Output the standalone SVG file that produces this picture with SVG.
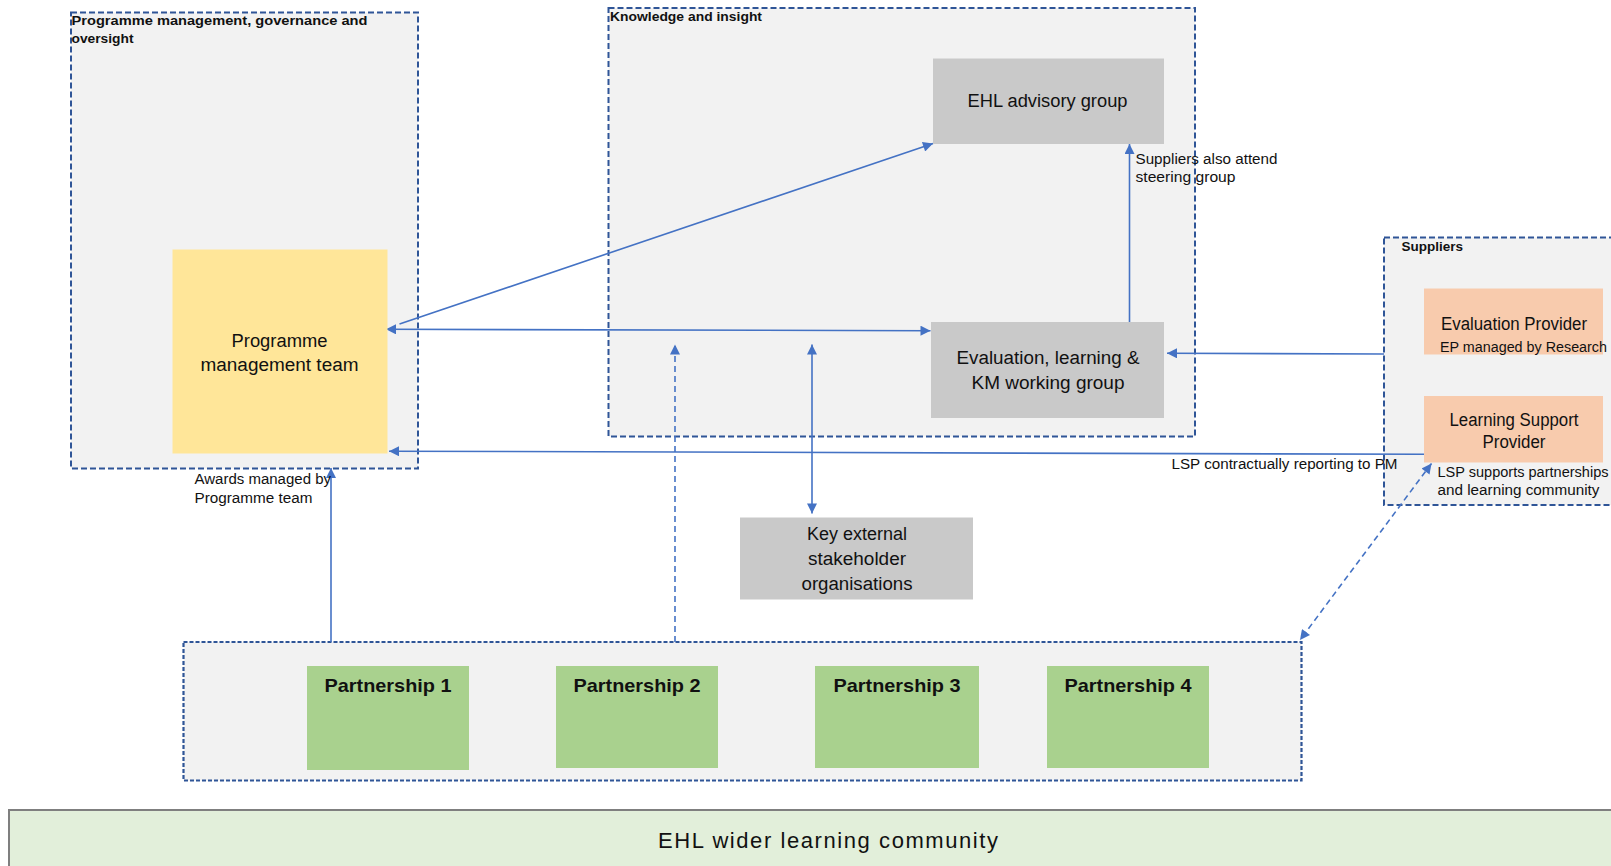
<svg xmlns="http://www.w3.org/2000/svg" width="1611" height="866" viewBox="0 0 1611 866">
  <defs>
    <marker id="arrow" viewBox="0 0 10 10" refX="10" refY="5" markerWidth="12" markerHeight="10" markerUnits="userSpaceOnUse" orient="auto-start-reverse">
      <path d="M0,0 L10,5 L0,10 z" fill="#4472c4"/>
    </marker>
  </defs>
  <style>
    .grp{fill:#f2f2f2;stroke:#2f5597;stroke-width:2;stroke-dasharray:6 3}
    .grp-fine{fill:#f2f2f2;stroke:#2f5597;stroke-width:2.2;stroke-dasharray:4 2}
    .grey{fill:#c9c9c9}
    .amber{fill:#ffe699}
    .peach{fill:#f8cbad}
    .green{fill:#a9d18e}
    .band{fill:#e2efda;stroke:#7f7f7f;stroke-width:2}
    text{font-family:"Liberation Sans",Arial,sans-serif;fill:#111}
    .title{font-size:13.5px;font-weight:bold}
    .node{font-size:18px;text-anchor:middle}
    .small{font-size:14px}
    .part{font-size:19px;font-weight:bold;text-anchor:middle}
    .conn{stroke:#4472c4;stroke-width:1.6;fill:none}
    .dash{stroke-dasharray:6 4}
  </style>

  <!-- containers -->
  <g id="programme-management">
    <rect class="grp" x="71" y="12.5" width="347" height="456"/>
    <text class="title" x="71.5" y="25" textLength="296" lengthAdjust="spacingAndGlyphs">Programme management, governance and</text>
    <text class="title" x="71.5" y="43" textLength="62" lengthAdjust="spacingAndGlyphs">oversight</text>
  </g>
  <g id="knowledge-insight">
    <rect class="grp" x="608.5" y="8" width="586.5" height="428.5"/>
    <text class="title" x="610" y="21" textLength="152" lengthAdjust="spacingAndGlyphs">Knowledge and insight</text>
  </g>
  <g id="suppliers">
    <rect class="grp" x="1384" y="237.5" width="240" height="267.5"/>
    <text class="title" x="1401.5" y="250.5" textLength="61.5" lengthAdjust="spacingAndGlyphs">Suppliers</text>
  </g>
  <g id="partnerships">
    <rect class="grp-fine" x="183.5" y="642" width="1118" height="138.5"/>
  </g>

  <!-- connectors -->
  <g id="connectors">
    <line class="conn" x1="399.5" y1="324" x2="933" y2="143.5" marker-end="url(#arrow)"/>
    <line class="conn" x1="386" y1="329.3" x2="930.5" y2="330.7" marker-start="url(#arrow)" marker-end="url(#arrow)"/>
    <line class="conn" x1="1129.5" y1="322" x2="1129.5" y2="144" marker-end="url(#arrow)"/>
    <line class="conn" x1="1384" y1="354" x2="1167" y2="353.3" marker-end="url(#arrow)"/>
    <line class="conn" x1="1424" y1="454.3" x2="389" y2="451.2" marker-end="url(#arrow)"/>
    <line class="conn" x1="331" y1="642" x2="331" y2="468" marker-end="url(#arrow)"/>
    <line class="conn dash" x1="675" y1="642" x2="675" y2="344.5" marker-end="url(#arrow)"/>
    <line class="conn" x1="812" y1="344.5" x2="812" y2="513.5" marker-start="url(#arrow)" marker-end="url(#arrow)"/>
    <line class="conn dash" x1="1431.5" y1="463.5" x2="1300" y2="640" marker-start="url(#arrow)" marker-end="url(#arrow)"/>
  </g>

  <!-- nodes -->
  <g id="programme-team">
    <rect class="amber" x="172.5" y="249.5" width="215" height="204"/>
    <text class="node" x="279.5" y="346.5" textLength="96" lengthAdjust="spacingAndGlyphs">Programme</text>
    <text class="node" x="279.5" y="371" textLength="158" lengthAdjust="spacingAndGlyphs">management team</text>
  </g>
  <g id="ehl-advisory">
    <rect class="grey" x="933" y="58.5" width="231" height="85.5"/>
    <text class="node" x="1047.5" y="106.5" textLength="160" lengthAdjust="spacingAndGlyphs">EHL advisory group</text>
  </g>
  <g id="eval-working-group">
    <rect class="grey" x="931" y="322" width="233" height="96"/>
    <text class="node" x="1048" y="363.5" textLength="183" lengthAdjust="spacingAndGlyphs">Evaluation, learning &amp;</text>
    <text class="node" x="1048" y="388.5" textLength="153" lengthAdjust="spacingAndGlyphs">KM working group</text>
  </g>
  <g id="key-external">
    <rect class="grey" x="740" y="517.5" width="233" height="82"/>
    <text class="node" x="857" y="540" textLength="100" lengthAdjust="spacingAndGlyphs">Key external</text>
    <text class="node" x="857" y="565" textLength="98" lengthAdjust="spacingAndGlyphs">stakeholder</text>
    <text class="node" x="857" y="589.5" textLength="111" lengthAdjust="spacingAndGlyphs">organisations</text>
  </g>
  <g id="evaluation-provider">
    <rect class="peach" x="1424" y="288.5" width="179" height="66"/>
    <text class="node" x="1514" y="329.8" font-size="17" textLength="146" lengthAdjust="spacingAndGlyphs">Evaluation Provider</text>
    <text class="small" x="1440" y="352" textLength="167" lengthAdjust="spacingAndGlyphs">EP managed by Research</text>
  </g>
  <g id="learning-support-provider">
    <rect class="peach" x="1424" y="396" width="179" height="66.5"/>
    <text class="node" x="1514" y="425.5" font-size="17" textLength="129" lengthAdjust="spacingAndGlyphs">Learning Support</text>
    <text class="node" x="1514" y="448" font-size="17" textLength="63" lengthAdjust="spacingAndGlyphs">Provider</text>
  </g>
  <g id="partnership-1">
    <rect class="green" x="307" y="666" width="162" height="104"/>
    <text class="part" x="388" y="692" textLength="127" lengthAdjust="spacingAndGlyphs">Partnership 1</text>
  </g>
  <g id="partnership-2">
    <rect class="green" x="556" y="666" width="162" height="102"/>
    <text class="part" x="637" y="692" textLength="127" lengthAdjust="spacingAndGlyphs">Partnership 2</text>
  </g>
  <g id="partnership-3">
    <rect class="green" x="815" y="666" width="164" height="102"/>
    <text class="part" x="897" y="692" textLength="127" lengthAdjust="spacingAndGlyphs">Partnership 3</text>
  </g>
  <g id="partnership-4">
    <rect class="green" x="1047" y="666" width="162" height="102"/>
    <text class="part" x="1128" y="692" textLength="127" lengthAdjust="spacingAndGlyphs">Partnership 4</text>
  </g>
  <g id="wider-learning-community">
    <rect class="band" x="9" y="810" width="1610" height="62"/>
    <text x="828" y="847.5" font-size="22" text-anchor="middle" textLength="340" lengthAdjust="spacing">EHL wider learning community</text>
  </g>

  <!-- connector captions -->
  <g id="captions">
    <text class="small" x="1135.5" y="163.5" textLength="142" lengthAdjust="spacingAndGlyphs">Suppliers also attend</text>
    <text class="small" x="1135.5" y="182" textLength="100" lengthAdjust="spacingAndGlyphs">steering group</text>
    <text class="small" x="194.5" y="483.5" textLength="136.5" lengthAdjust="spacingAndGlyphs">Awards managed by</text>
    <text class="small" x="194.5" y="502.5" textLength="118" lengthAdjust="spacingAndGlyphs">Programme team</text>
    <text class="small" x="1171.5" y="469.3" textLength="226" lengthAdjust="spacingAndGlyphs">LSP contractually reporting to PM</text>
    <text class="small" x="1437.5" y="476.7" textLength="171" lengthAdjust="spacingAndGlyphs">LSP supports partnerships</text>
    <text class="small" x="1437.5" y="495" textLength="162" lengthAdjust="spacingAndGlyphs">and learning community</text>
  </g>
</svg>
